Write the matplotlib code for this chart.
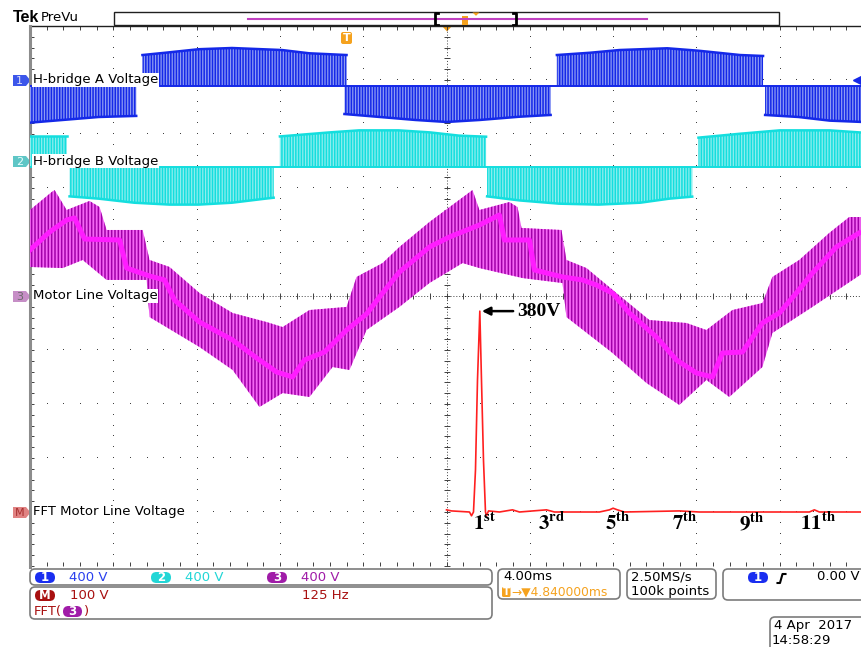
import numpy as np
import matplotlib.pyplot as plt
from matplotlib.patches import Rectangle, FancyBboxPatch, Polygon

plt.rcParams['mathtext.fontset'] = 'stix'
plt.rcParams['hatch.linewidth'] = 1.1
plt.rcParams['font.family'] = ['DejaVu Sans']

# time axis in ms, 0 = screen centre, 4 ms/div
MS_PER_DIV = 4.0
VOLT_PER_DIV = 400.0      # ch1..ch3
FFT_V_PER_DIV = 100.0
FFT_HZ_PER_DIV = 125.0

# channel positions (divisions)
CH1_POS = 4.0
CH2_POS = 2.5
CH3_POS = 0.0
M_POS = -4.0
BASE_SHIFT = -0.105   # pwm zero level sits a bit under the marker

# H-bridge A: envelope of PWM pulses, one list per segment (ms, V)
ch1_t = [[-20.0, -16.7, -14.9],
         [-14.6, -13.5, -11.9, -10.3, -7.9, -6.6, -4.8],
         [-4.9, -3.2, -1.5, 0.0, 1.6, 3.5, 5.0],
         [5.3, 6.9, 8.3, 10.6, 12.1, 14.1, 15.2],
         [15.3, 16.9, 18.4, 20.0]]
ch1_v = [[-274, -232, -224],
         [227, 244, 270, 279, 264, 240, 227],
         [-210, -232, -254, -269, -254, -230, -217],
         [227, 244, 264, 277, 259, 227, 220],
         [-217, -232, -259, -269]]

# H-bridge B
ch2_t = [[-20.0, -18.2],
         [-18.1, -16.7, -15.0, -13.3, -11.9, -10.3, -8.7, -8.3],
         [-8.0, -5.6, -4.2, -2.3, -0.8, 0.6, 1.9],
         [1.95, 3.5, 5.4, 7.3, 9.3, 10.7, 11.8],
         [12.1, 14.1, 16.0, 18.4, 20.0]]
ch2_v = [[230, 230],
         [-220, -237, -267, -281, -281, -267, -237, -230],
         [224, 254, 269, 269, 254, 230, 222],
         [-220, -250, -274, -281, -267, -237, -222],
         [215, 244, 269, 269, 252]]

# motor line voltage: average trace and spike envelopes (ms, V)
ch3_mid_t = [-20.0, -19.06, -18.24, -17.86, -17.38, -15.7, -15.36, -14.26, -13.54, -13.06,
             -11.86, -10.27, -9.12, -8.16, -7.39, -6.82, -5.86, -4.8, -3.84, -3.07, -2.26,
             -0.82, 0.14, 1.58, 2.54, 2.78, 3.98, 4.22, 5.57, 6.53, 7.2, 7.97, 8.78, 10.08,
             11.04, 12.0, 12.77, 13.25, 14.21, 15.17, 15.98, 16.8, 17.57, 18.72, 19.82]
ch3_mid_v = [341, 474, 563, 578, 422, 415, 207, 148, 119, -30,
             -193, -326, -459, -563, -600, -474, -415, -252, -133, 22, 178,
             363, 437, 526, 600, 415, 415, 193, 141, 119, 81, 22, -126, -304,
             -474, -570, -600, -422, -415, -200, -126, 22, 170, 363, 467]
ch3_top_t = [-20.0, -18.96, -18.82, -18.24, -17.14, -16.66, -16.32, -14.59, -14.26, -13.3,
             -11.86, -10.27, -8.64, -7.87, -6.58, -4.8, -4.32, -3.07, -2.26, -0.82, 1.25,
             1.58, 3.02, 3.41, 3.6, 5.52, 5.76, 6.72, 8.16, 9.74, 11.52, 12.48, 13.73,
             15.17, 15.65, 16.94, 18.38, 19.34, 20.0]
ch3_top_v = [637, 770, 785, 637, 704, 659, 489, 489, 267, 215,
             22, -126, -193, -230, -104, -81, 141, 244, 363, 548, 785,
             637, 696, 659, 504, 489, 267, 207, 22, -178, -200, -252, -104,
             -52, 141, 267, 467, 585, 585]
ch3_bot_t = [-20.0, -18.43, -17.47, -16.32, -14.4, -14.26, -11.86, -10.27, -8.98, -7.87,
             -6.58, -5.47, -4.66, -3.84, -2.26, -0.82, 0.77, 1.58, 3.65, 5.57, 5.76,
             7.97, 9.6, 11.18, 12.48, 13.58, 15.17, 15.65, 17.57, 20.0]
ch3_bot_v = [215, 207, 267, 119, 119, -156, -378, -548, -822, -719,
             -748, -526, -548, -252, -81, 96, 244, 207, 133, 96, -156,
             -422, -644, -807, -622, -748, -526, -274, -81, 170]

# FFT of channel 3 (Hz, V)
fft_f = [0, 7.5, 34.5, 37.5, 40.5, 43.5, 46.5, 50, 52.5, 55.5, 58.5, 60, 63, 79.5, 99,
         109.5, 150, 162, 229.5, 244.5, 250, 256.5, 267, 349.5, 379.5, 544.5, 552, 559.5, 625]
fft_v = [4, 2, 0, -7, 0, 78, 244, 372, 244, 96, 0, -7, 2, 0, 4,
         0, 4, 0, 0, 4, 7, 4, 0, 2, 0, 0, 4, 0, 0]
harm_order = [1, 3, 5, 7, 9, 11]
harm_suffix = ['st', 'rd', 'th', 'th', 'th', 'th']

BLUE = '#1428e8'
CYAN = '#14dede'
MAG = '#ff1cff'
PURP = '#a000a8'
DRED = '#a81010'
ORANGE = '#f5a21e'

fig = plt.figure(figsize=(8.62, 6.47), dpi=100)
ax0 = fig.add_axes([0, 0, 1, 1])
ax0.set_xlim(0, 862)
ax0.set_ylim(647, 0)
ax0.axis('off')

ax = fig.add_axes([30 / 862, 1 - 566 / 647, 833 / 862, 540 / 647])
ax.set_xlim(-20, 20)
ax.set_ylim(-5, 5)
ax.axis('off')

# ---- graticule ----
for x in np.arange(-16, 20, 4):
    if x == 0:
        continue
    ys = np.arange(-5, 5.01, 0.2)
    ax.plot(np.full_like(ys, x), ys, ls='none', marker=',', color='#404040')
for y in np.arange(-4, 5, 1):
    if y == 0:
        continue
    xs = np.arange(-20, 20.01, 0.8)
    ax.plot(xs, np.full_like(xs, y), ls='none', marker=',', color='#404040')
ax.plot([-20, 20], [0, 0], ls=(0, (1, 2)), color='#404040', lw=0.7)
ax.plot([0, 0], [-5, 5], ls=(0, (1, 2)), color='#404040', lw=0.7)
xt = np.arange(-20, 20.01, 0.8)
yt = np.arange(-5, 5.01, 0.2)
ax.plot(xt, np.zeros_like(xt), ls='none', marker='|', ms=4, mew=0.7, color='#404040')
ax.plot(np.zeros_like(yt), yt, ls='none', marker='_', ms=4, mew=0.7, color='#404040')
ax.plot(xt, np.full_like(xt, 4.965), ls='none', marker='|', ms=3, mew=0.7, color='#404040', clip_on=False)
ax.plot(xt, np.full_like(xt, -4.965), ls='none', marker='|', ms=3, mew=0.7, color='#404040', clip_on=False)
ax.plot(np.full_like(yt, -19.88), yt, ls='none', marker='_', ms=3, mew=0.7, color='#404040')
ax.plot([-20, 21], [5, 5], color='#202020', lw=1.0, clip_on=False)
ax.plot([-20, -20], [-5.02, 5], color='#8c8c8c', lw=2.2, clip_on=False)


def pwm(ts, vs, pos, color, tint):
    base = pos + BASE_SHIFT
    for t, v in zip(ts, vs):
        t = np.array(t)
        y = base + np.array(v) / VOLT_PER_DIV
        ax.fill_between(t, base, y, facecolor=tint, edgecolor=color, hatch='||||||', lw=0, zorder=2)
        ax.plot(t, y, color=color, lw=1.8, zorder=3)
    ax.plot([-20, 20], [base, base], color=color, lw=1.4, zorder=3)


pwm(ch1_t, ch1_v, CH1_POS, BLUE, '#8e9cf4')
pwm(ch2_t, ch2_v, CH2_POS, CYAN, '#8eeeee')

band_t = np.r_[ch3_top_t, ch3_bot_t[::-1]]
band_v = np.r_[ch3_top_v, ch3_bot_v[::-1]]
ax.fill(band_t, CH3_POS + band_v / VOLT_PER_DIV, facecolor='#f466f4', edgecolor=PURP,
        hatch='|||||', lw=0, zorder=2)
ax.plot(ch3_mid_t, CH3_POS + np.array(ch3_mid_v) / VOLT_PER_DIV, color=MAG, lw=3.6, zorder=3)

fft_x = np.array(fft_f) / FFT_HZ_PER_DIV * MS_PER_DIV
ax.plot(fft_x, M_POS + np.array(fft_v) / FFT_V_PER_DIV, color='#ff2020', lw=1.2, zorder=4)

pk = int(np.argmax(fft_v))
ax.annotate('380V', xy=(fft_x[pk] + 0.1, M_POS + fft_v[pk] / FFT_V_PER_DIV),
            xytext=(3.4, M_POS + fft_v[pk] / FFT_V_PER_DIV), va='center', ha='left',
            fontsize=14, fontfamily='Liberation Serif', fontweight='bold',
            arrowprops=dict(arrowstyle='-|>', color='black', lw=1.8, mutation_scale=12,
                            shrinkA=1, shrinkB=0), zorder=6)
for n, s in zip(harm_order, harm_suffix):
    ax.text(n * 50 / FFT_HZ_PER_DIV * MS_PER_DIV + 0.24, M_POS - 0.2,
            r'$\mathbf{%d^{%s}}$' % (n, s), fontsize=15, ha='center', va='center', zorder=6)

# trace labels
lab_kw = dict(fontsize=9.5, ha='left', va='center', zorder=10,
              bbox=dict(facecolor='white', edgecolor='none', pad=0.6))
ax.text(-19.87, CH1_POS, 'H-bridge A Voltage', **lab_kw)
ax.text(-19.87, CH2_POS, 'H-bridge B Voltage', **lab_kw)
ax.text(-19.87, CH3_POS, 'Motor Line Voltage', **lab_kw)
ax.text(-19.87, M_POS, 'FFT Motor Line Voltage', **lab_kw)


# ---- chrome in pixel coords ----
def ch_marker(y, fc, tc, label):
    ax0.add_patch(Polygon([(13, y - 5.5), (26, y - 5.5), (30.5, y), (26, y + 5.5), (13, y + 5.5)],
                          closed=True, fc=fc, ec='none'))
    ax0.text(19.5, y + 0.5, label, color=tc, fontsize=8, ha='center', va='center')


ch_marker(80.5, '#3c56ea', '#d8dcf8', '1')
ch_marker(161.5, '#5ec6c6', '#e8ffff', '2')
ch_marker(296.5, '#c68ec6', '#6a6a6a', '3')
ch_marker(512.5, '#e08282', '#a83030', 'M')
ax0.plot([856, 862], [80, 80], color=BLUE, lw=1.2)
ax0.plot(857, 80, marker='<', ms=6, color=BLUE, mec=BLUE)

ax0.text(13, 18, 'Tek', fontfamily='Liberation Sans', fontweight='bold', fontsize=11.5, va='center')
ax0.text(41, 17.5, 'PreVu', fontsize=9.5, va='center')
ax0.add_patch(Rectangle((114, 12), 665, 13, fc='white', ec='#202020', lw=1.0))
ax0.plot([248, 647], [18.5, 18.5], color='#c040c0', lw=1.5)
for x, d in [(435, 3), (516, -3)]:
    ax0.plot([x + d, x, x, x + d], [12.5, 12.5, 24.5, 24.5], color='black', lw=2)
ax0.add_patch(Rectangle((462, 15.5), 6.5, 9.5, fc=ORANGE, ec='none'))
ax0.add_patch(Polygon([(472.5, 12.5), (479.5, 12.5), (476, 15.8)], closed=True, fc=ORANGE, ec='none'))
ax0.add_patch(Polygon([(442, 26), (452, 26), (447, 31.5)], closed=True, fc=ORANGE, ec='none'))
ax0.add_patch(FancyBboxPatch((341, 32), 11, 12, boxstyle='round,pad=0,rounding_size=2',
                             fc=ORANGE, ec='none'))
ax0.text(346.5, 38.3, 'T', color='white', fontsize=8, fontweight='bold', ha='center', va='center')


def box(x0, y0, x1, y1):
    ax0.add_patch(FancyBboxPatch((x0, y0), x1 - x0, y1 - y0, boxstyle='round,pad=0,rounding_size=5',
                                 fc='white', ec='#7c7c7c', lw=1.2))


def pill(x, y, w, h, color, label):
    ax0.add_patch(FancyBboxPatch((x, y), w, h, boxstyle='round,pad=0,rounding_size=%g' % (h / 2),
                                 fc=color, ec='none'))
    ax0.text(x + w / 2, y + h / 2 + 0.3, label, color='white', fontsize=8.5, fontweight='bold',
             ha='center', va='center')


st = dict(fontsize=9.5, va='center', ha='left')
box(30, 569, 492, 585)
box(30, 587, 492, 619)
box(498, 569, 620, 599)
box(627, 569, 716, 599)
box(723, 569, 875, 600)
box(770, 617, 875, 652)

pill(35, 572, 20, 11, '#1a2ef0', '1')
ax0.text(69, 577.5, '400 V', color='#2a40ee', **st)
pill(151, 572, 20, 11, '#22d6d6', '2')
ax0.text(185, 577.5, '400 V', color='#22d6d6', **st)
pill(267, 572, 20, 11, '#a01ca8', '3')
ax0.text(301, 577.5, '400 V', color='#a01ca8', **st)

pill(35, 590, 20, 11, DRED, 'M')
ax0.text(70, 595.5, '100 V', color=DRED, **st)
ax0.text(302, 595.5, '125 Hz', color=DRED, **st)
ax0.text(34, 611.5, 'FFT(', color=DRED, **st)
pill(63, 606, 19, 11, '#a01ca8', '3')
ax0.text(84, 611.5, ')', color=DRED, **st)

ax0.text(503, 577, '4.00ms', color='black', **st)
ax0.add_patch(FancyBboxPatch((502, 587), 8.5, 10, boxstyle='round,pad=0,rounding_size=1.5',
                             fc=ORANGE, ec='none'))
ax0.text(506.3, 592.3, 'T', color='white', fontsize=7.5, fontweight='bold', ha='center', va='center')
ax0.text(511, 592, '\u2192\u25bc4.840000ms', color=ORANGE, fontsize=8.8, va='center', ha='left')

ax0.text(631, 577, '2.50MS/s', color='black', **st)
ax0.text(631, 592, '100k points', color='black', **st)

pill(748, 572, 20, 11, '#1a2ef0', '1')
ax0.plot([777.5, 780, 782.5, 785.5], [583, 583, 574, 574], color='black', lw=1.5)
ax0.text(860, 577, '0.00 V', color='black', fontsize=9.5, va='center', ha='right')

ax0.text(774, 625, '4 Apr  2017', color='black', **st)
ax0.text(772, 640, '14:58:29', color='black', **st)

fig.savefig('out.png', dpi=100)
